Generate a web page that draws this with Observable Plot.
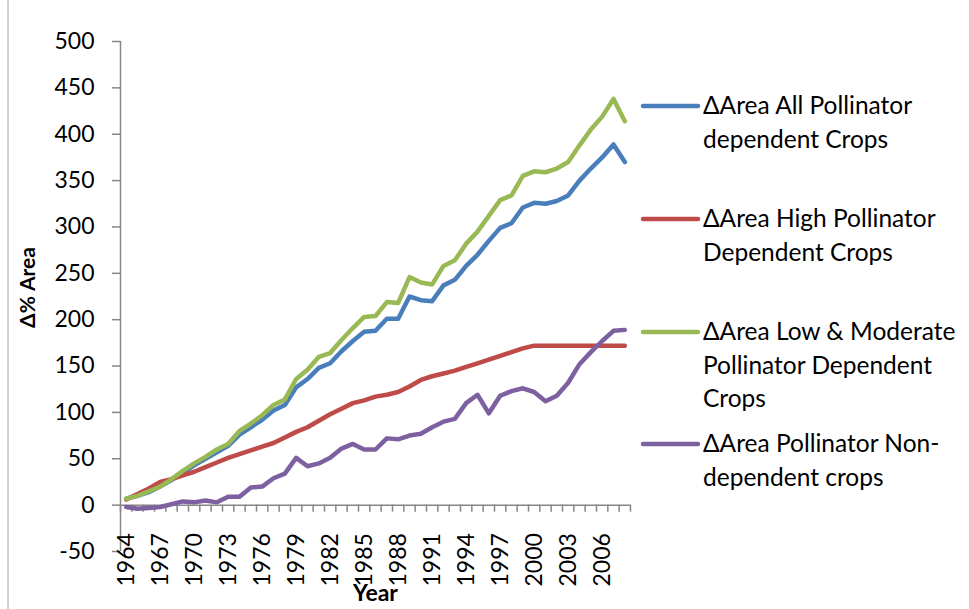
<!DOCTYPE html>
<html>
<head>
<meta charset="utf-8">
<script src="https://cdn.jsdelivr.net/npm/d3@7"></script>
<script src="https://cdn.jsdelivr.net/npm/@observablehq/plot@0.6"></script>
<style>
  html, body { margin: 0; padding: 0; background: white; }
  #chart { width: 969px; height: 609px; position: relative; }
</style>
</head>
<body>
<div id="chart"></div>
<script>
const years = [1964,1965,1966,1967,1968,1969,1970,1971,1972,1973,1974,1975,1976,1977,1978,1979,1980,1981,1982,1983,1984,1985,1986,1987,1988,1989,1990,1991,1992,1993,1994,1995,1996,1997,1998,1999,2000,2001,2002,2003,2004,2005,2006,2007,2008];
const labelYears = [1964,1967,1970,1973,1976,1979,1982,1985,1988,1991,1994,1997,2000,2003,2006];
const yTicks = [-50,0,50,100,150,200,250,300,350,400,450,500];

const allDependent = [7,10,14,20,27,35,43,50,57,64,76,84,92,102,108,127,136,148,153,166,177,187,188,201,201,225,221,220,237,243,258,270,285,299,304,321,326,325,328,334,350,363,375,389,370];
const highDependent = [6,12,18,25,28,32,36,41,46,51,55,59,63,67,73,79,84,91,98,104,110,113,117,119,122,128,135,139,142,145,149,153,157,161,165,169,172,172,172,172,172,172,172,172,172];
const lowModDependent = [7,10,15,20,28,37,45,52,60,66,80,88,97,108,114,136,146,160,164,178,191,203,204,219,218,246,240,238,258,264,282,295,312,329,334,355,360,359,363,370,388,405,419,438,414];
const nonDependent = [-2,-4,-3,-2,1,4,3,5,3,9,9,19,20,29,34,51,42,45,51,61,66,60,60,72,71,75,77,84,90,93,110,119,99,118,123,126,122,112,118,132,152,165,177,188,189];

const seriesNames = [
  ["ΔArea All Pollinator", "dependent Crops"],
  ["ΔArea High Pollinator", "Dependent Crops"],
  ["ΔArea Low & Moderate", "Pollinator Dependent", "Crops"],
  ["ΔArea Pollinator Non-", "dependent crops"]
];
const seriesValues = [allDependent, highDependent, lowModDependent, nonDependent];
const colors = ["#4A7EBB", "#BE4B48", "#98B954", "#7D60A0"];

const table = (vals) => years.map((yr, i) => ({year: yr, value: vals[i]}));
const xDomain = [years[0] - 0.5, years[years.length - 1] + 0.5];
const boundaries = years.map(y => y - 0.5).concat([years[years.length - 1] + 0.5]);

const W = 969, H = 609, mL = 120, mR = 339, mT = 41, mB = 58;
const unitsPerPx = (yTicks[yTicks.length - 1] - yTicks[0]) / (H - mT - mB);
const axisGray = "#868686";
const font = "Lato, 'Open Sans', sans-serif";

const plot = Plot.plot({
  width: W, height: H,
  marginLeft: mL, marginRight: mR, marginTop: mT, marginBottom: mB,
  x: {type: "linear", domain: xDomain, axis: null},
  y: {domain: [yTicks[0], yTicks[yTicks.length - 1]], axis: null},
  style: {fontFamily: font, background: "white", overflow: "visible"},
  marks: [
    Plot.axisY({ticks: yTicks, tickSize: 8, stroke: axisGray, strokeWidth: 1.5, tickFormat: () => "", label: null}),
    Plot.axisY({ticks: yTicks, tickSize: 0, tickPadding: 26, fill: "black", fontSize: 23, tickFormat: d => String(d), label: null}),
    Plot.ruleX([xDomain[0]], {stroke: axisGray, strokeWidth: 1.5}),
    Plot.ruleY([0], {stroke: axisGray, strokeWidth: 1.5}),
    Plot.ruleX(boundaries, {x: d => d, y1: 0, y2: -7 * unitsPerPx, stroke: axisGray, strokeWidth: 1.5}),
    Plot.text(labelYears, {x: d => d, y: 0, text: d => String(d), rotate: -90, textAnchor: "end", dy: 28, fontSize: 23, fill: "black"}),
    ...seriesValues.map((vals, i) => Plot.line(table(vals), {
      x: "year", y: "value", stroke: colors[i], strokeWidth: 4.5,
      strokeLinecap: "round", strokeLinejoin: "round"
    })),
    Plot.text(["Δ% Area"], {frameAnchor: "left", textAnchor: "middle", lineAnchor: "middle", rotate: -90, dx: -92, dy: -9, fontSize: 21, fontWeight: "bold", fill: "black"}),
    Plot.text(["Year"], {frameAnchor: "bottom", textAnchor: "middle", lineAnchor: "bottom", dy: 49, fontSize: 23, fontWeight: "bold", fill: "black"})
  ]
});

const svg = d3.select(plot);
svg.append("line").attr("x1", 8).attr("x2", 8).attr("y1", 0).attr("y2", H)
  .attr("stroke", "#a6a6a6").attr("stroke-width", 1);

const legendY = [106, 219, 332, 444];
const lg = svg.append("g").attr("font-family", font).attr("font-size", 24.5)
  .attr("fill", "black").attr("text-anchor", "start");
seriesNames.forEach((lines, i) => {
  const y0 = legendY[i];
  lg.append("line").attr("x1", 643).attr("x2", 698).attr("y1", y0).attr("y2", y0)
    .attr("stroke", colors[i]).attr("stroke-width", 4.5).attr("stroke-linecap", "round");
  lines.forEach((t, j) => {
    lg.append("text").attr("x", 703).attr("y", y0 + 8 + j * 33.5).text(t);
  });
});

document.getElementById("chart").appendChild(plot);
</script>
</body>
</html>
